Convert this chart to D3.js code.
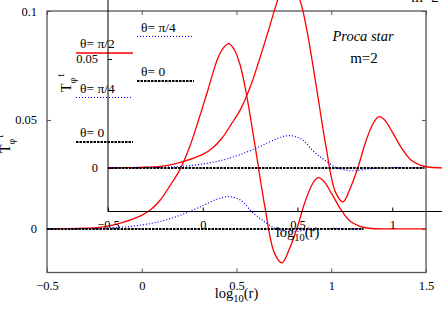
<!DOCTYPE html>
<html>
    <head>
        <meta charset="utf-8">
        <title>Proca star T_phi^t</title>
        <script src="https://d3js.org/d3.v7.min.js"></script>
        <style>
            body { margin: 0; background: #fff; }
        </style>
    </head>
    <body>
        <script>
            // theta = pi/2 (red, solid)
            const logRPi2 = [-0.5, -0.4, -0.3, -0.2, -0.1, 0, 0.05, 0.1, 0.15, 0.2, 0.25, 0.3, 0.35, 0.4, 0.43, 0.46, 0.49, 0.52, 0.55, 0.6, 0.65, 0.7, 0.74, 0.78, 0.82, 0.86, 0.9, 0.93, 0.96, 1.0, 1.05, 1.1, 1.15, 1.2, 1.3, 1.4, 1.5];
            const tPi2 = [0, 0.0001, 0.0003, 0.0009, 0.003, 0.0062, 0.009, 0.0135, 0.02, 0.027, 0.037, 0.05, 0.064, 0.078, 0.083, 0.085, 0.082, 0.075, 0.063, 0.037, 0.01, -0.011, -0.0156, -0.009, 0.0005, 0.012, 0.0205, 0.0235, 0.022, 0.0165, 0.009, 0.0035, 0.0012, 0.0003, 0, 0, 0];

            // theta = pi/4 (blue, dotted)
            const logRPi4 = [-0.5, -0.3, -0.2, -0.1, 0, 0.1, 0.2, 0.3, 0.4, 0.46, 0.52, 0.58, 0.64, 0.7, 0.75, 0.8, 0.85, 0.9, 1.0, 1.1, 1.17];
            const tPi4 = [0, 0.0001, 0.0003, 0.0008, 0.0018, 0.0035, 0.0062, 0.0098, 0.0137, 0.0148, 0.0133, 0.008, 0.0038, 0.0004, -0.001, -0.0013, -0.0007, -0.0002, 0.0002, 0.0001, 0];

            // theta = 0 (black, dashed)
            const logR0 = [-0.5, 0, 0.5, 1.0, 1.17];
            const t0 = [0, 0, 0, 0, 0];

            const xTicks = [-0.5, 0, 0.5, 1, 1.5];
            const yTicks = [0, 0.05, 0.1];
            const legendLabels = ["θ= π/2", "θ= π/4", "θ= 0"];

            const serif = "'Liberation Serif', 'Times New Roman', 'DejaVu Serif', serif";

            const svgWidth = 442;
            const svgHeight = 309;
            const margin = { top: 11, right: 16, bottom: 36.5, left: 47 };
            const width = svgWidth - margin.left - margin.right;
            const height = svgHeight - margin.top - margin.bottom;

            const svg = d3.select("body")
                .append("svg")
                    .attr("width", svgWidth)
                    .attr("height", svgHeight)
                    .style("font-family", serif);

            const xScale = d3.scaleLinear().domain([-0.5, 1.5]).range([0, width]);
            const yScale = d3.scaleLinear().domain([-0.02, 0.1]).range([height, 0]);

            const line = d3.line()
                .x(d => xScale(d.x))
                .y(d => yScale(d.y))
                .curve(d3.curveCatmullRom.alpha(0.5));

            const zip = (xs, ys) => xs.map((x, i) => ({ x: x, y: ys[i] }));
            const series = [
                { data: zip(logRPi2, tPi2), color: "#ff0000", width: 1.3, dash: null },
                { data: zip(logRPi4, tPi4), color: "#0000ff", width: 1.2, dash: "1,2" },
                { data: zip(logR0, t0), color: "#000000", width: 2, dash: "2.5,1" }
            ];

            // the figure shows the same panel twice, the second shifted up and right
            function drawPanel(dx, dy, frameColor, frameWidth) {
                const g = svg.append("g")
                    .attr("transform", `translate(${margin.left + dx},${margin.top + dy})`);

                g.append("rect")
                    .attr("width", width)
                    .attr("height", height)
                    .attr("fill", "none")
                    .attr("stroke", frameColor)
                    .attr("stroke-width", frameWidth);

                // ticks on all four sides, pointing in
                g.append("g")
                    .attr("transform", `translate(0,${height})`)
                    .call(d3.axisBottom(xScale).tickValues(xTicks).tickSizeInner(-4).tickSizeOuter(0).tickPadding(9).tickFormat(d3.format("")))
                    .call(a => a.select(".domain").remove());
                g.append("g")
                    .call(d3.axisTop(xScale).tickValues(xTicks).tickSizeInner(-4).tickSizeOuter(0).tickFormat(""))
                    .call(a => a.select(".domain").remove());
                g.append("g")
                    .call(d3.axisLeft(yScale).tickValues(yTicks).tickSizeInner(-4).tickSizeOuter(0).tickPadding(10).tickFormat(d3.format("")))
                    .call(a => a.select(".domain").remove());
                g.append("g")
                    .attr("transform", `translate(${width},0)`)
                    .call(d3.axisRight(yScale).tickValues(yTicks).tickSizeInner(-4).tickSizeOuter(0).tickFormat(""))
                    .call(a => a.select(".domain").remove());

                g.selectAll("g").attr("font-family", null);
                g.selectAll(".tick line").attr("stroke", frameColor);
                g.selectAll(".tick text")
                    .style("font-family", serif)
                    .attr("font-size", 12.5)
                    .attr("fill", "#000");

                series.forEach(s => {
                    g.append("path")
                        .datum(s.data)
                        .attr("d", line)
                        .attr("fill", "none")
                        .attr("stroke", s.color)
                        .attr("stroke-width", s.width)
                        .attr("stroke-dasharray", s.dash);
                });

                // legend
                legendLabels.forEach((label, i) => {
                    const ly = 42 + i * 44.5;
                    g.append("line")
                        .attr("x1", 29).attr("x2", 86)
                        .attr("y1", ly).attr("y2", ly)
                        .attr("stroke", series[i].color)
                        .attr("stroke-width", series[i].width)
                        .attr("stroke-dasharray", series[i].dash);
                    g.append("text")
                        .attr("x", 33)
                        .attr("y", ly - 5)
                        .style("font-family", serif)
                        .attr("font-size", 13.5)
                        .text(label);
                });

                g.append("text")
                    .attr("x", 316).attr("y", 30)
                    .attr("text-anchor", "middle")
                    .style("font-family", serif)
                    .attr("font-size", 14.5)
                    .attr("font-style", "italic")
                    .text("Proca star");
                g.append("text")
                    .attr("x", 317).attr("y", 52)
                    .attr("text-anchor", "middle")
                    .style("font-family", serif)
                    .attr("font-size", 15)
                    .text("m=2");

                // axis titles
                const xl = g.append("text")
                    .attr("x", xScale(0.5))
                    .attr("y", height + 25.5)
                    .attr("text-anchor", "middle")
                    .style("font-family", serif)
                    .attr("font-size", 14.5);
                xl.append("tspan").text("log");
                xl.append("tspan").attr("font-size", 10.5).attr("dy", 4).text("10");
                xl.append("tspan").attr("dy", -4).text("(r)");

                const yl = g.append("text")
                    .attr("transform", `translate(${-37},${142}) rotate(-90)`)
                    .attr("text-anchor", "start")
                    .style("font-family", serif)
                    .attr("font-size", 14);
                yl.append("tspan").text("T");
                yl.append("tspan").attr("font-size", 10).attr("dy", 5).text("φ");
                yl.append("tspan").attr("font-size", 10).attr("dx", 1).attr("dy", -12).text("t");
            }

            drawPanel(0, 0, "#555", 1.3);
            drawPanel(61, -61, "#000", 1);
        </script>
    </body>
</html>
